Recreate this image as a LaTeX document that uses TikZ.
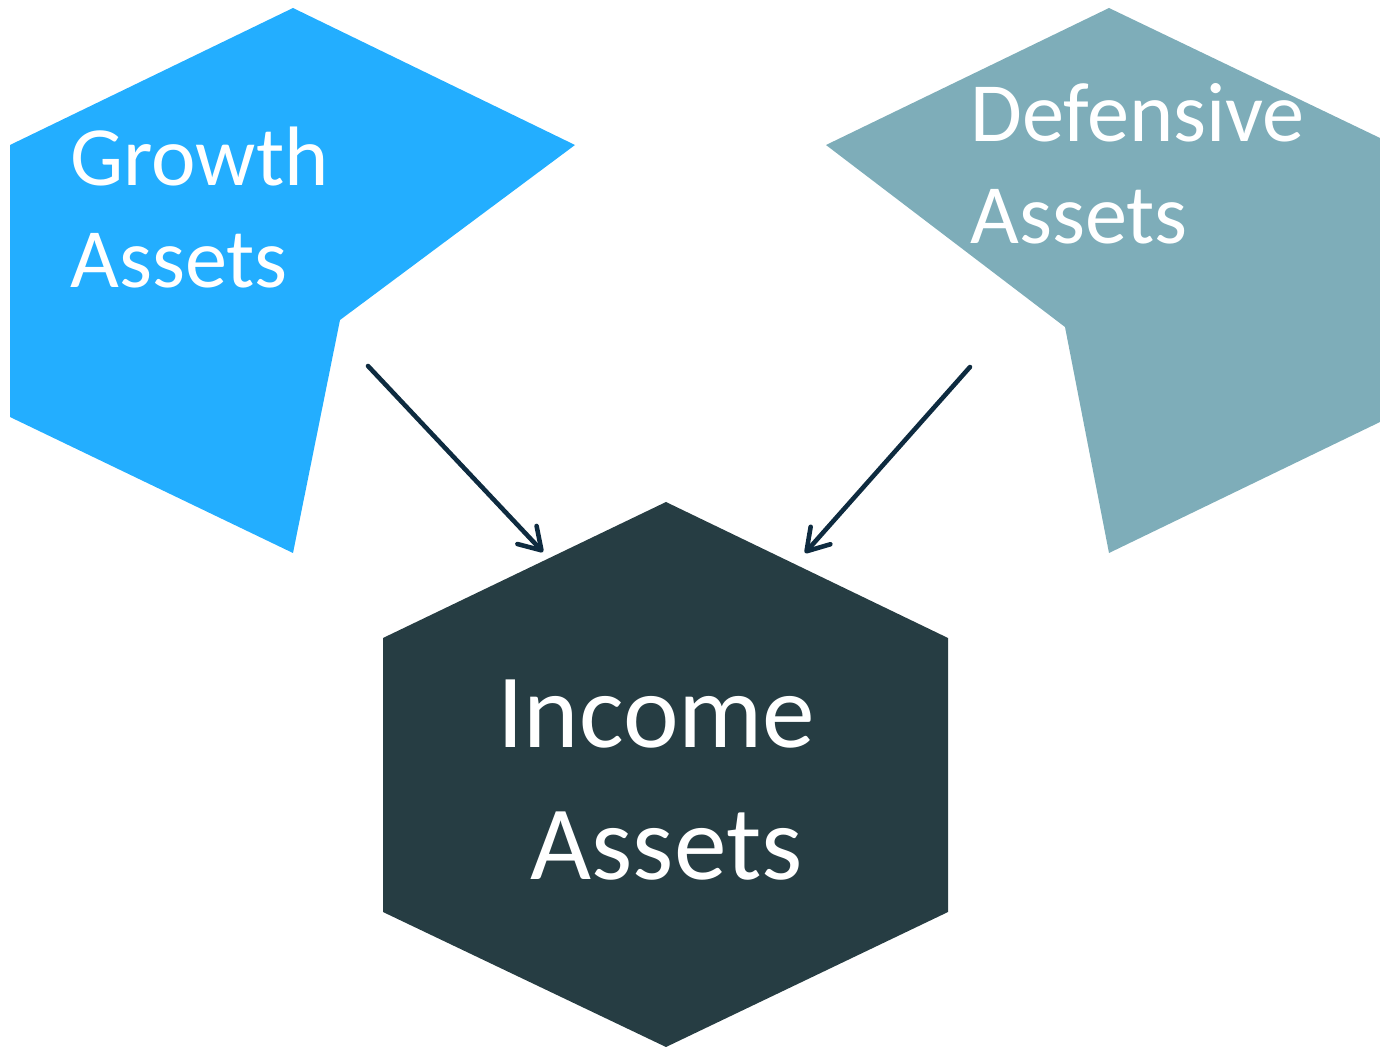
\documentclass[tikz,border=0pt]{standalone}
\usepackage{fontspec}
\setmainfont{Carlito}
\usetikzlibrary{arrows.meta}
\definecolor{GrowthBlue}{RGB}{35,174,255}
\definecolor{DefensiveTeal}{RGB}{126,173,185}
\definecolor{IncomeDark}{RGB}{38,61,67}
\definecolor{ArrowNavy}{RGB}{14,43,64}

\begin{document}
\begin{tikzpicture}[
    x=0.02cm, y=-0.02cm,
    label/.style={text=white, inner sep=0pt, align=left, anchor=north west, font=\fontsize{48}{58}\selectfont},
    arr/.style={-{Straight Barb[length=12pt, width=15pt, line cap=round, line join=round]}, line width=2.6pt, line cap=round, ArrowNavy}
]
    \useasboundingbox (0,0) rectangle (1380,1047);
    % the three hexagons, the upper two cut where the lower one sits
    \fill[GrowthBlue] (10,145) -- (293,8) -- (575,145) -- (340,320) -- (293,553) -- (10,417) -- cycle;
    \fill[DefensiveTeal] (826,145) -- (1109,8) -- (1380,138) -- (1380,422) -- (1109,553) -- (1065,327) -- cycle;
    \fill[IncomeDark] (383,638) -- (666,502) -- (948,638) -- (948,912) -- (666,1047) -- (383,912) -- cycle;

    \node[label] (growth) at (70,127) {Growth\\Assets};
    \node[label] (defensive) at (970,83) {Defensive\\Assets};
    \node[label, font=\fontsize{60}{75}\selectfont] (income) at (497,680) {Income\\\hspace*{19pt}Assets};

    \coordinate (growth-out) at (368,366);
    \coordinate (defensive-out) at (970,367);
    \coordinate (income-left) at (543,552);
    \coordinate (income-right) at (805,553);
    \draw[arr] (growth-out) -- (income-left);
    \draw[arr] (defensive-out) -- (income-right);
\end{tikzpicture}
\end{document}
